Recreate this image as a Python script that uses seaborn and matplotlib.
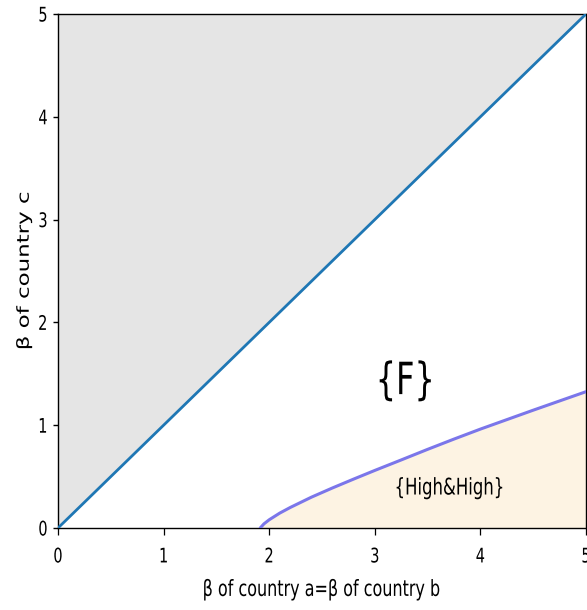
import matplotlib
matplotlib.use("Agg")
import matplotlib.pyplot as plt
import seaborn as sns
from matplotlib.patheffects import AbstractPathEffect
from matplotlib.transforms import Affine2D

# ---- data ----
diag_x = [0, 5]
diag_y = [0, 5]
curve_x = [1.915, 1.95, 2.0, 2.1, 2.2, 2.4, 2.6, 2.8, 3.0, 3.25, 3.5, 3.75, 4.0, 4.25, 4.5, 4.75, 5.0]
curve_y = [0.0, 0.04, 0.08, 0.145, 0.20, 0.30, 0.39, 0.476, 0.56, 0.662, 0.765, 0.865, 0.962, 1.054, 1.146, 1.236, 1.326]
x_ticks = [0, 1, 2, 3, 4, 5]
y_ticks = [0, 1, 2, 3, 4, 5]
tick_labels = ["0", "1", "2", "3", "4", "5"]
x_label = "β of country a=β of country b"
y_label = "β of country c"
region_labels = ["{F}", "{High&High}"]
region_pos = [(3.289, 1.424), (3.706, 0.389)]

SX = 0.72  # horizontal squish of glyphs seen in the reference


class SquishX(AbstractPathEffect):
    def __init__(self, sx=SX, anchor="center"):
        super().__init__()
        self.sx = sx
        self.anchor = anchor

    def draw_path(self, renderer, gc, tpath, affine, rgbFace=None):
        ext = tpath.get_extents(affine)
        if self.anchor == "right":
            x0 = ext.x1
        elif self.anchor == "left":
            x0 = ext.x0
        else:
            x0 = 0.5 * (ext.x0 + ext.x1)
        t = affine + Affine2D().translate(-x0, 0).scale(self.sx, 1).translate(x0, 0)
        renderer.draw_path(gc, tpath, t, rgbFace)


sns.set_style("ticks")
plt.rcParams["font.family"] = ["DejaVu Sans"]
plt.rcParams["text.color"] = "black"
plt.rcParams["axes.labelcolor"] = "black"
plt.rcParams["xtick.color"] = "black"
plt.rcParams["ytick.color"] = "black"

fig = plt.figure(figsize=(5.87, 6.10), dpi=100)
ax = fig.add_axes([58 / 587, 82 / 610, 528 / 587, 514 / 610])

ax.fill_between(diag_x, diag_y, 5, color="#e5e5e5", lw=0, zorder=0)
ax.fill_between(curve_x, 0, curve_y, color="#fdf3e3", lw=0, zorder=0)
sns.lineplot(x=diag_x, y=diag_y, ax=ax, color="#1f77b4", lw=2.0, zorder=3)
sns.lineplot(x=curve_x, y=curve_y, ax=ax, color="#7b76ea", lw=2.2, zorder=3)

ax.set_xlim(0, 5)
ax.set_ylim(0, 5)
ax.set_xticks(x_ticks)
xt = ax.set_xticklabels(tick_labels, fontsize=14.5, color="black")
ax.set_yticks(y_ticks)
yt = ax.set_yticklabels(tick_labels, fontsize=14.5, color="black")
ax.tick_params(axis="x", length=5, width=0.9, pad=9, colors="black")
ax.tick_params(axis="y", length=3.6, width=1.0, pad=3.6, colors="black")
for t in xt:
    t.set_path_effects([SquishX(SX, "center")])
for t in yt:
    t.set_path_effects([SquishX(SX, "right")])

for sp in ax.spines.values():
    sp.set_color("black")
    sp.set_linewidth(1.0)

ax.set_xlabel(x_label, fontsize=16, color="black", path_effects=[SquishX(SX, "center")])
ax.set_ylabel(y_label, fontsize=16.5, color="black", path_effects=[SquishX(SX, "center")])
ax.xaxis.set_label_coords(0.5, -0.101)
ax.yaxis.set_label_coords(-0.0426, 0.5)

ax.text(region_pos[0][0], region_pos[0][1], region_labels[0], fontsize=32, color="black",
        ha="center", va="center", path_effects=[SquishX(SX, "center")], zorder=4)
ax.text(region_pos[1][0], region_pos[1][1], region_labels[1], fontsize=16.5, color="black",
        ha="center", va="center", path_effects=[SquishX(SX, "center")], zorder=4)

fig.savefig("out.png", dpi=100)
